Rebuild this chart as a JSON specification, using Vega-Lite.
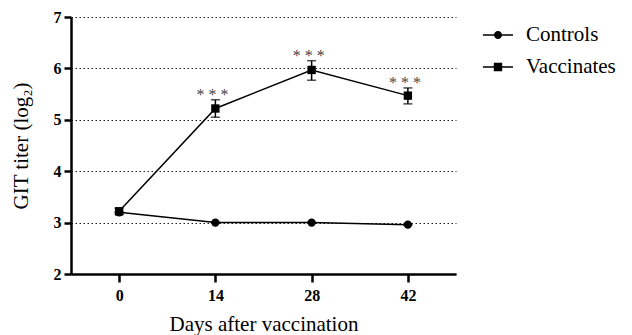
{
  "$schema": "https://vega.github.io/schema/vega-lite/v6.json",
  "autosize": "none",
  "width": 385,
  "height": 257,
  "padding": {"left": 71, "top": 17, "right": 176, "bottom": 61},
  "background": "white",
  "config": {
    "view": {"stroke": null},
    "font": "Liberation Serif",
    "axis": {
      "domainColor": "black",
      "domainWidth": 2.5,
      "tickColor": "black",
      "tickWidth": 2.5,
      "labelFont": "Liberation Serif",
      "labelFontWeight": "bold",
      "labelFontSize": 16,
      "labelColor": "black",
      "titleFont": "Liberation Serif",
      "titleFontWeight": "normal",
      "titleFontSize": 21,
      "titleColor": "black"
    }
  },
  "data": {
    "values": [
      {"series": "Controls", "day": 0, "mean": 3.2, "lo": 3.2, "hi": 3.2, "star": ""},
      {"series": "Controls", "day": 14, "mean": 3.0, "lo": 3.0, "hi": 3.0, "star": ""},
      {"series": "Controls", "day": 28, "mean": 3.0, "lo": 3.0, "hi": 3.0, "star": ""},
      {"series": "Controls", "day": 42, "mean": 2.96, "lo": 2.96, "hi": 2.96, "star": ""},
      {"series": "Vaccinates", "day": 0, "mean": 3.22, "lo": 3.16, "hi": 3.28, "star": ""},
      {"series": "Vaccinates", "day": 14, "mean": 5.22, "lo": 5.05, "hi": 5.39, "star": "* * *"},
      {"series": "Vaccinates", "day": 28, "mean": 5.97, "lo": 5.77, "hi": 6.15, "star": "* * *"},
      {"series": "Vaccinates", "day": 42, "mean": 5.47, "lo": 5.31, "hi": 5.62, "star": "* * *"}
    ]
  },
  "encoding": {
    "x": {
      "field": "day",
      "type": "quantitative",
      "scale": {"domain": [-7, 49], "nice": false, "zero": false},
      "axis": {
        "values": [0, 14, 28, 42],
        "grid": false,
        "tickSize": 8,
        "labelPadding": 5,
        "title": "Days after vaccination",
        "titlePadding": 10
      }
    }
  },
  "resolve": {"scale": {"shape": "independent"}, "legend": {"shape": "independent"}},
  "layer": [
    {
      "mark": {"type": "line", "color": "black", "strokeWidth": 1.5},
      "encoding": {
        "y": {
          "field": "mean",
          "type": "quantitative",
          "scale": {"domain": [2, 7], "nice": false, "zero": false},
          "axis": {
            "values": [2, 3, 4, 5, 6, 7],
            "format": "d",
            "grid": true,
            "gridDash": [1.5, 2.5],
            "gridColor": "#222",
            "gridWidth": 1,
            "tickSize": 7,
            "labelPadding": 3,
            "title": "GIT titer  (log₂)",
            "titlePadding": 22
          }
        },
        "detail": {"field": "series"}
      }
    },
    {
      "mark": {"type": "rule", "color": "black", "strokeWidth": 1.5},
      "encoding": {
        "y": {"field": "lo", "type": "quantitative"},
        "y2": {"field": "hi"}
      }
    },
    {
      "mark": {"type": "tick", "color": "black", "orient": "horizontal", "size": 9, "thickness": 1.5},
      "encoding": {"y": {"field": "lo", "type": "quantitative"}}
    },
    {
      "mark": {"type": "tick", "color": "black", "orient": "horizontal", "size": 9, "thickness": 1.5},
      "encoding": {"y": {"field": "hi", "type": "quantitative"}}
    },
    {
      "mark": {"type": "point", "filled": true, "opacity": 1, "color": "black"},
      "encoding": {
        "y": {"field": "mean", "type": "quantitative"},
        "shape": {
          "field": "series",
          "type": "nominal",
          "scale": {"domain": ["Controls", "Vaccinates"], "range": ["circle", "square"]},
          "legend": null
        },
        "size": {"value": 70}
      }
    },
    {
      "transform": [{"filter": "datum.day < -100"}],
      "mark": {"type": "point", "filled": true, "opacity": 1, "color": "black"},
      "encoding": {
        "y": {"field": "mean", "type": "quantitative"},
        "shape": {
          "field": "series",
          "type": "nominal",
          "scale": {
            "domain": ["Controls", "Vaccinates"],
            "range": [
              "M-1,-0.05H1V0.05H-1ZM0.27,0A0.27,0.27,0,1,1,-0.27,0A0.27,0.27,0,1,1,0.27,0Z",
              "M-1,-0.05H1V0.05H-1ZM-0.28,-0.28H0.28V0.28H-0.28Z"
            ]
          },
          "legend": {
            "title": null,
            "orient": "none",
            "legendX": 412,
            "legendY": 3,
            "symbolSize": 900,
            "symbolFillColor": "black",
            "symbolStrokeWidth": 0,
            "symbolOpacity": 1,
            "labelFont": "Liberation Serif",
            "labelFontSize": 21,
            "labelColor": "black",
            "labelOffset": 13,
            "rowPadding": 7
          }
        }
      }
    },
    {
      "mark": {"type": "text", "font": "Liberation Serif", "fontSize": 16, "color": "#444", "baseline": "alphabetic", "dy": 0, "dx": -3},
      "encoding": {
        "y": {"field": "hi", "type": "quantitative"},
        "text": {"field": "star"}
      }
    }
  ]
}
